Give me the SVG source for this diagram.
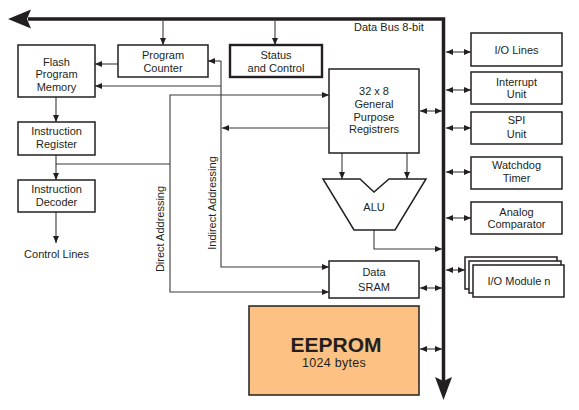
<svg xmlns="http://www.w3.org/2000/svg" width="579" height="410" viewBox="0 0 579 410">
<defs>
<style>
.box{fill:#fff;stroke:#231f20;stroke-width:1.5}
.thick{stroke-width:2.4}
.t{font-family:"Liberation Sans",Arial,sans-serif;font-size:11px;fill:#231f20;text-anchor:middle}
.c{fill:none;stroke:#3a3a3a;stroke-width:1.1}
.a{marker-end:url(#ah)}
.b{marker-end:url(#ah);marker-start:url(#ah)}
</style>
<marker id="ah" markerUnits="userSpaceOnUse" markerWidth="7" markerHeight="6" refX="7" refY="3" orient="auto-start-reverse">
<path d="M0,0 L7,3 L0,6 z" fill="#231f20"/>
</marker>
</defs>
<rect width="579" height="410" fill="#fff"/>

<g id="bus">
<path d="M28,19 H443.5 V384" fill="none" stroke="#231f20" stroke-width="3.5"/>
<polygon points="8,19 31,9.5 27,19 31,28.5" fill="#231f20"/>
<polygon points="443.5,400 435,377 443.5,381 452,377" fill="#231f20"/>
<text class="t" x="354" y="31" style="text-anchor:start">Data Bus 8-bit</text>
</g>

<g id="connectors">
<path class="c a" d="M163,21 V45"/>
<path class="c a" d="M275,21 V45"/>
<path class="c a" d="M118,64 H95"/>
<path class="c a" d="M221,61 H208"/>
<path class="c a" d="M221,86 H95"/>
<path class="c a" d="M221,61 V267 H329"/>
<path class="c a" d="M329,128 H222"/>
<path class="c" d="M56,164 H170"/>
<path class="c a" d="M170,164 V292 H329"/>
<path class="c a" d="M170,164 V95 H329"/>
<path class="c a" d="M56,97 V122"/>
<path class="c a" d="M56,155 V180"/>
<path class="c a" d="M56,212 V243"/>
<path class="c a" d="M342,153 V179"/>
<path class="c a" d="M407,153 V179"/>
<path class="c a" d="M374,230 V249 H442"/>
<path class="c b" d="M420,111 H442"/>
<path class="c b" d="M420,288 H442"/>
<path class="c b" d="M420,349 H442"/>
<path class="c b" d="M446,52 H471"/>
<path class="c b" d="M446,90 H471"/>
<path class="c b" d="M446,128 H471"/>
<path class="c b" d="M446,172 H471"/>
<path class="c b" d="M446,218 H471"/>
<path class="c b" d="M446,270 H465"/>
</g>

<g id="flash"><rect class="box" x="18" y="45" width="77" height="52"/>
<text class="t" x="56.5" y="66">Flash</text><text class="t" x="56.5" y="78">Program</text><text class="t" x="56.5" y="91">Memory</text></g>

<g id="pc"><rect class="box" x="118" y="45" width="90" height="32"/>
<text class="t" x="163" y="59">Program</text><text class="t" x="163" y="72">Counter</text></g>

<g id="status"><rect class="box thick" x="230" y="45" width="92" height="32"/>
<text class="t" x="276" y="59">Status</text><text class="t" x="276" y="72">and Control</text></g>

<g id="ir"><rect class="box" x="18" y="122" width="77" height="33"/>
<text class="t" x="56.5" y="135">Instruction</text><text class="t" x="56.5" y="148">Register</text></g>

<g id="decoder"><rect class="box" x="18" y="180" width="77" height="32"/>
<text class="t" x="56.5" y="193">Instruction</text><text class="t" x="56.5" y="206">Decoder</text></g>

<g id="controllines"><text class="t" x="56.5" y="258">Control Lines</text></g>

<g id="direct"><text class="t" transform="translate(164,229) rotate(-90)">Direct Addressing</text></g>
<g id="indirect"><text class="t" transform="translate(216,203) rotate(-90)">Indirect Addressing</text></g>

<g id="gpr"><rect class="box" x="329" y="69" width="90" height="84"/>
<text class="t" x="374" y="95">32 x 8</text><text class="t" x="374" y="108">General</text><text class="t" x="374" y="121">Purpose</text><text class="t" x="374" y="133">Registrers</text></g>

<g id="alu"><polygon class="box" points="323,179 360,179 374,192 389,179 426,179 395,230 354,230"/>
<text class="t" x="374" y="211">ALU</text></g>

<g id="sram"><rect class="box" x="329" y="261" width="90" height="37"/>
<text class="t" x="374" y="276">Data</text><text class="t" x="374" y="291">SRAM</text></g>

<g id="eeprom"><rect x="249" y="306" width="170" height="89" fill="#fdc283" stroke="#231f20" stroke-width="1.5"/>
<text x="336" y="352" style="font-family:'Liberation Sans',Arial,sans-serif;font-size:21px;font-weight:bold;fill:#231f20;text-anchor:middle">EEPROM</text>
<text x="334" y="367" style="font-family:'Liberation Sans',Arial,sans-serif;font-size:12.5px;fill:#231f20;text-anchor:middle;letter-spacing:0.3px">1024 bytes</text></g>

<g id="iolines"><rect class="box" x="471" y="33" width="91" height="33"/>
<text class="t" x="516.5" y="54">I/O Lines</text></g>
<g id="interrupt"><rect class="box" x="471" y="72" width="91" height="32"/>
<text class="t" x="516.5" y="86">Interrupt</text><text class="t" x="516.5" y="98">Unit</text></g>
<g id="spi"><rect class="box" x="471" y="112" width="91" height="32"/>
<text class="t" x="516.5" y="124">SPI</text><text class="t" x="516.5" y="138">Unit</text></g>
<g id="watchdog"><rect class="box" x="471" y="157" width="91" height="32"/>
<text class="t" x="516.5" y="169">Watchdog</text><text class="t" x="516.5" y="182">Timer</text></g>
<g id="analog"><rect class="box" x="471" y="202" width="91" height="32"/>
<text class="t" x="516.5" y="216">Analog</text><text class="t" x="516.5" y="228">Comparator</text></g>
<g id="iomodule"><rect class="box" x="465" y="257" width="92" height="32"/>
<rect class="box" x="469" y="261" width="92" height="32"/>
<rect class="box" x="473" y="265" width="91" height="32"/>
<text class="t" x="519" y="285">I/O Module n</text></g>
</svg>
